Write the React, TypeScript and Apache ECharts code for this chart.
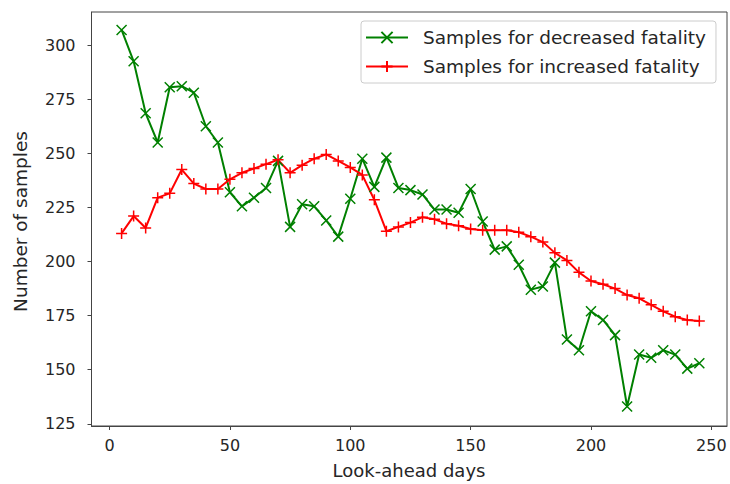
import React, { useEffect, useRef } from "react";
import * as echarts from "echarts";

const days = [5, 10, 15, 20, 25, 30, 35, 40, 45, 50, 55, 60, 65, 70, 75, 80, 85, 90, 95, 100, 105, 110, 115, 120, 125, 130, 135, 140, 145, 150, 155, 160, 165, 170, 175, 180, 185, 190, 195, 200, 205, 210, 215, 220, 225, 230, 235, 240, 245];

const decreased = [307, 292.5, 268.5, 255, 280.5, 281, 278, 262.5, 255, 232, 225.5, 229.5, 234, 246.5, 216, 226.5, 225.5, 219, 211.5, 229, 247.5, 234.5, 248, 234, 233, 231, 224, 224, 222.5, 233.5, 218.5, 205.5, 207, 198.5, 187, 188.5, 199.5, 164, 159, 177, 173, 166, 133, 157, 155.5, 159, 157, 150.5, 153];

const increased = [213, 221, 215.5, 229.5, 231.5, 242.5, 236, 233.5, 233.5, 238, 241, 243, 245, 247, 241, 244.5, 247.5, 249.5, 246.5, 243.5, 240, 228.5, 214, 216, 218, 220.5, 219.5, 217.5, 216.5, 215, 214.5, 214.5, 214.5, 213.5, 211.5, 209, 204, 200.5, 195, 191, 189.5, 187.5, 184.5, 183, 180, 177, 174.5, 173, 172.5];

const xTicks = [0, 50, 100, 150, 200, 250];
const yTicks = [125, 150, 175, 200, 225, 250, 275, 300];

const seriesNames = ["Samples for decreased fatality", "Samples for increased fatality"];
const xTitle = "Look-ahead days";
const yTitle = "Number of samples";

const FONT = "DejaVu Sans";
const AXIS = "#444";
const TEXT = "#262626";

export default function App() {
  const ref = useRef<HTMLDivElement>(null);
  useEffect(() => {
    document.body.style.margin = "0";
    const chart = echarts.init(ref.current!, null, { renderer: "svg" });
    const axisCommon = {
      type: "value" as const,
      splitLine: { show: false },
      axisLine: { show: true, onZero: false, lineStyle: { color: AXIS, width: 1 } },
      axisTick: { show: true, inside: false, length: 4, lineStyle: { color: AXIS, width: 1 } },
    };
    chart.setOption({
      animation: false,
      backgroundColor: "#fff",
      grid: { left: 91.5, right: 3, top: 12, bottom: 58, show: true, borderColor: AXIS, borderWidth: 1, containLabel: false, outerBoundsMode: "none" },
      xAxis: {
        ...axisCommon,
        min: -7.5,
        max: 256.5,
        axisTick: { ...axisCommon.axisTick, customValues: xTicks },
        axisLabel: { customValues: xTicks, fontFamily: FONT, fontSize: 16, color: TEXT, margin: 11 },
      },
      yAxis: {
        ...axisCommon,
        min: 124,
        max: 315.3,
        axisTick: { ...axisCommon.axisTick, customValues: yTicks },
        axisLabel: { customValues: yTicks, fontFamily: FONT, fontSize: 16, color: TEXT, margin: 16 },
      },
      legend: {
        left: 361,
        top: 21,
        orient: "vertical",
        padding: [7, 10, 7, 4],
        itemWidth: 42,
        itemHeight: 14,
        itemGap: 10,
        borderColor: "#cccccc",
        borderWidth: 1,
        borderRadius: 3,
        backgroundColor: "#fff",
        textStyle: { fontFamily: FONT, fontSize: 18.5, color: TEXT, padding: [0, 0, 0, 10] },
        data: seriesNames,
      },
      graphic: [
        { type: "text", x: 409, y: 470, style: { text: xTitle, fontFamily: FONT, fontSize: 18, fill: TEXT, align: "center", verticalAlign: "middle" } },
        { type: "text", x: 20, y: 221.5, rotation: Math.PI / 2, style: { text: yTitle, fontFamily: FONT, fontSize: 18.5, fill: TEXT, align: "center", verticalAlign: "middle" } },
      ],
      series: [
        {
          name: seriesNames[0],
          type: "line",
          data: days.map((d, i) => [d, decreased[i]]),
          symbol: "path://M0,0L10,10M10,0L0,10",
          symbolSize: 10,
          showAllSymbol: true,
          lineStyle: { color: "#008000", width: 2 },
          itemStyle: { color: "#008000", borderColor: "#008000", borderWidth: 1.5 },
        },
        {
          name: seriesNames[1],
          type: "line",
          data: days.map((d, i) => [d, increased[i]]),
          symbol: "path://M5,0L5,10M0,5L10,5",
          symbolSize: 11,
          showAllSymbol: true,
          lineStyle: { color: "#ff0000", width: 2 },
          itemStyle: { color: "#ff0000", borderColor: "#ff0000", borderWidth: 1.5 },
        },
      ],
    });
    return () => chart.dispose();
  }, []);
  return <div ref={ref} style={{ width: 730, height: 484 }} />;
}
